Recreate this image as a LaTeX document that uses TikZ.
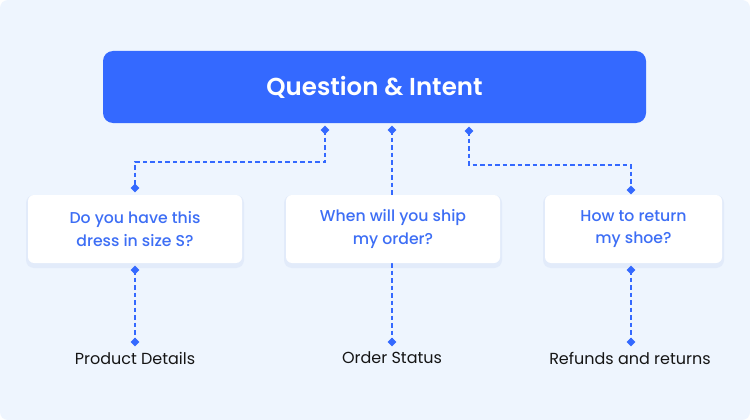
\documentclass[tikz,border=0pt]{standalone}
\usepackage{fontspec}
\setmainfont{Poppins}
\newfontfamily\popsemi{Poppins SemiBold}
\newfontfamily\popmed{Poppins Medium}
\usetikzlibrary{shapes.geometric}
\definecolor{bgblue}{HTML}{EEF5FE}
\definecolor{shadowblue}{HTML}{E2EBFA}
\definecolor{mainblue}{HTML}{3469FF}
\definecolor{txtblue}{HTML}{3D6EF5}
\definecolor{labtxt}{HTML}{151515}
\tikzset{
  topbox/.style={fill=mainblue, rounded corners=10pt, minimum width=543pt, minimum height=72pt, text=white, font=\popsemi\fontsize{24.5}{28}\selectfont, inner sep=0pt},
  qbox/.style={fill=white, rounded corners=6pt, minimum height=68pt, inner sep=0pt, align=center, text=txtblue, font=\popmed\fontsize{15.7}{22.5}\selectfont},
  qshadow/.style={fill=shadowblue, rounded corners=8pt},
  dia/.style={diamond, fill=mainblue, inner sep=0pt, minimum width=9pt, minimum height=9pt},
  conn/.style={draw=mainblue, line width=1.6pt, dash pattern=on 4.5pt off 3pt},
  lab/.style={text=labtxt, font=\fontsize{16}{19}\selectfont, inner sep=0pt}
}
\begin{document}
\begin{tikzpicture}[x=1pt,y=-1pt]
\fill[white] (0,0) rectangle (750,420);
\fill[bgblue, rounded corners=8pt] (0,0) rectangle (750,420);
\useasboundingbox (0,0) rectangle (750,420);

\node[topbox] (top) at (374.5,87) {Question \& Intent};

% shadows of question boxes
\fill[qshadow] (26,195) rectangle (244,268);
\fill[qshadow] (284,195) rectangle (502,268);
\fill[qshadow] (543,195) rectangle (724,268);

% connector end points
\coordinate (m2) at (392,263);
\coordinate (m2top) at (392,195);
\coordinate (t1) at (325,130);
\coordinate (t2) at (392,130);
\coordinate (t3) at (469,131);
\coordinate (a1) at (135,188);
\coordinate (a3) at (631,190);
\coordinate (b1) at (135,270);
\coordinate (b3) at (631,270);
\coordinate (c1) at (135,342);
\coordinate (c2) at (392,342);
\coordinate (c3) at (631,342);

\draw[conn] (t1) -- ++(0,32) -| (a1);
\draw[conn] (t3) -- ++(0,34) -| (a3);
\draw[conn] (t2) -- (m2top);
\draw[conn] (b1) -- (c1);
\draw[conn] (m2) -- (c2);
\draw[conn] (b3) -- (c3);

% question boxes
\node[qbox, minimum width=214pt] (q1) at (135,229) {Do you have this\\dress in size S?};
\node[qbox, minimum width=214pt] (q2) at (393,229) {When will you ship\\my order?};
\node[qbox, minimum width=177pt] (q3) at (633.5,229) {How to return\\my shoe?};

% diamonds
\foreach \d in {t1,t2,t3,a1,a3,b1,b3,c1,c2,c3} {
  \node[dia] at (\d) {};
}

% labels
\node[lab] (l1) at (135,358) {Product Details};
\node[lab] (l2) at (392,358) {Order Status};
\node[lab] (l3) at (630,358) {Refunds and returns};
\end{tikzpicture}
\end{document}
